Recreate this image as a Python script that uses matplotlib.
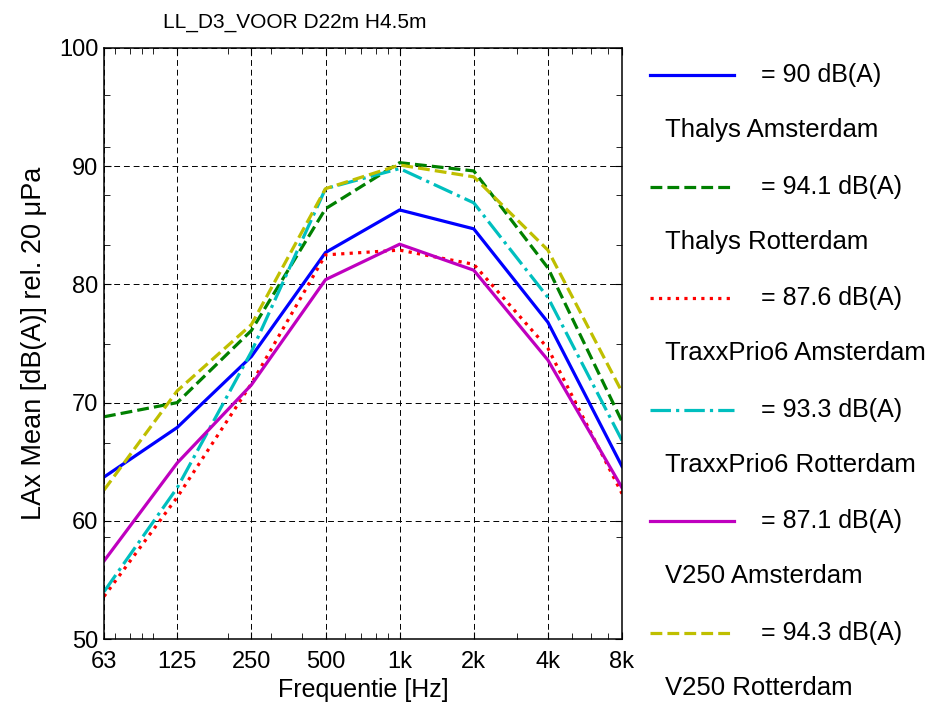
import matplotlib
matplotlib.use("Agg")
import matplotlib.pyplot as plt
from matplotlib.lines import Line2D
from matplotlib.ticker import FixedLocator, LogLocator, NullFormatter
import numpy as np

plt.rcParams['font.family'] = ['Liberation Sans', 'DejaVu Sans']

freqs = [63, 125, 250, 500, 1000, 2000, 4000, 8000]
freq_labels = ['63', '125', '250', '500', '1k', '2k', '4k', '8k']

thalys_ams = [63.7, 67.9, 73.9, 82.7, 86.3, 84.7, 76.8, 64.6]
thalys_rot = [68.8, 70.0, 76.1, 86.4, 90.3, 89.6, 81.4, 68.4]
traxx_ams = [53.6, 62.0, 71.6, 82.5, 82.9, 81.7, 74.6, 62.3]
traxx_rot = [54.0, 62.8, 74.3, 88.1, 89.8, 86.9, 78.9, 66.8]
v250_ams = [56.6, 64.9, 71.5, 80.4, 83.4, 81.2, 73.6, 62.8]
v250_rot = [62.6, 71.0, 76.6, 88.1, 90.1, 89.1, 82.9, 70.9]

names = ['Thalys Amsterdam', 'Thalys Rotterdam', 'TraxxPrio6 Amsterdam',
         'TraxxPrio6 Rotterdam', 'V250 Amsterdam', 'V250 Rotterdam']
totals = ['90', '94.1', '87.6', '93.3', '87.1', '94.3']

series = [thalys_ams, thalys_rot, traxx_ams, traxx_rot, v250_ams, v250_rot]
colors = ['#0000ff', '#008000', '#ff0000', '#00bfbf', '#bf00bf', '#bfbf00']
styles = ['-', '--', ':', '-.', '-', '--']

fig = plt.figure(figsize=(9.42, 7.08), dpi=100)
ax = fig.add_axes([104/942, 1 - 639/708, 518/942, 591/708])

for vals, c, ls in zip(series, colors, styles):
    ax.plot(freqs, vals, color=c, linestyle=ls, linewidth=2.3)

ax.set_xscale('log')
ax.set_xlim(63, 8000)
ax.set_ylim(50, 100)
ax.xaxis.set_major_locator(FixedLocator(freqs))
ax.set_xticklabels(freq_labels)
ax.xaxis.set_minor_locator(LogLocator(base=10, subs=np.arange(1, 10)))
ax.xaxis.set_minor_formatter(NullFormatter())
ax.set_yticks([50, 60, 70, 80, 90, 100])
ax.yaxis.set_minor_locator(FixedLocator([58.6, 66.6, 75.0, 83.3, 87.6, 91.6, 96.0]))
ax.tick_params(which='both', direction='in', top=True, right=True, labelsize=17)
ax.tick_params(axis='x', which='major', pad=9)
ax.tick_params(axis='y', which='major', pad=4)
ax.tick_params(which='major', length=5)
ax.tick_params(which='minor', length=4)
for s in ax.spines.values():
    s.set_linewidth(1.1)
ax.grid(True, which='major', color='k', linestyle=(0, (6, 4)), linewidth=0.7)

ax.set_xlabel('Frequentie [Hz]', fontsize=18, labelpad=3)
ax.set_ylabel('LAx Mean [dB(A)] rel. 20 μPa', fontsize=19.5, labelpad=9)
fig.text(295/942, 1 - 22/708, 'LL_D3_VOOR D22m H4.5m', fontsize=15,
         ha='center', va='center')

# legend drawn by hand: sample line + total on one row, name on the row below
for i, (c, ls, tot, name) in enumerate(zip(colors, styles, totals, names)):
    y_line = 75 + 111.6 * i
    y_name = 130 + 111.6 * i
    fig.add_artist(Line2D([650/942, 734/942], [1 - y_line/708] * 2,
                          transform=fig.transFigure, color=c, linestyle=ls,
                          linewidth=2.3))
    fig.text(761/942, 1 - y_line/708, '= ' + tot + ' dB(A)', fontsize=18,
             ha='left', va='center')
    fig.text(665/942, 1 - y_name/708, name, fontsize=18.5, ha='left', va='center')

fig.savefig('out.png', dpi=100)
